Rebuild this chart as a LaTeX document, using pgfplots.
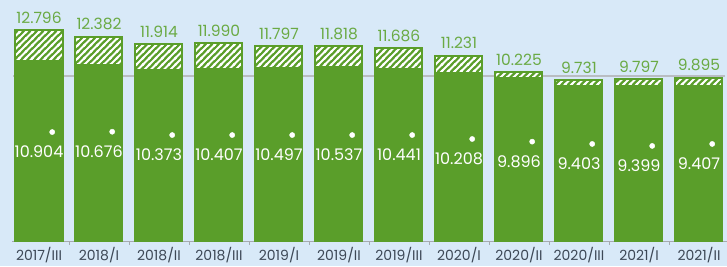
\documentclass[border=0pt]{standalone}
\usepackage{pgfplots}
\pgfplotsset{compat=1.18}
\usepackage{pgfplotstable}
\usepackage{fontspec}
\setmainfont{Poppins}
\usetikzlibrary{patterns}
\definecolor{bg}{HTML}{D8E9F8}
\definecolor{bargreen}{HTML}{5A9E2A}
\definecolor{labgreen}{HTML}{6AAA44}
\definecolor{gridgray}{HTML}{B9BDC2}
\definecolor{txt}{HTML}{3D4856}
\pgfdeclarepatternformonly{stripes}{\pgfpoint{-1pt}{-1pt}}{\pgfpoint{7.5pt}{7.5pt}}{\pgfpoint{6.5pt}{6.5pt}}{%
  \pgfsetlinewidth{2pt}%
  \pgfpathmoveto{\pgfpoint{-1pt}{-1pt}}%
  \pgfpathlineto{\pgfpoint{7.5pt}{7.5pt}}%
  \pgfpathmoveto{\pgfpoint{-1pt}{5.5pt}}%
  \pgfpathlineto{\pgfpoint{1pt}{7.5pt}}%
  \pgfpathmoveto{\pgfpoint{5.5pt}{-1pt}}%
  \pgfpathlineto{\pgfpoint{7.5pt}{1pt}}%
  \pgfusepath{stroke}}

\pgfplotstableread{
x solid total dot
0 10.904 12.796 6.60
1 10.676 12.382 6.62
2 10.373 11.914 6.42
3 10.407 11.990 6.42
4 10.497 11.797 6.42
5 10.537 11.818 6.42
6 10.441 11.686 6.42
7 10.208 11.231 6.18
8 9.896 10.225 6.02
9 9.403 9.731 5.88
10 9.399 9.797 5.76
11 9.407 9.895 5.88
}\data

\begin{document}
\begin{tikzpicture}
\fill[bg] (-12pt,-25pt) rectangle (715pt,241pt);
\begin{axis}[
  at={(0pt,0pt)}, anchor=south west,
  scale only axis, width=715pt, height=241pt,
  xmin=-0.45, xmax=11.467, ymin=0, ymax=14.6,
  axis x line=bottom, axis y line=none,
  x axis line style={-, draw=gridgray!90!black, line width=0.8pt},
  xtick={0,...,11},
  xticklabels={2017/III,2018/I,2018/II,2018/III,2019/I,2019/II,2019/III,2020/I,2020/II,2020/III,2021/I,2021/II},
  major tick length=0pt,
  minor xtick={0.5,1.5,...,10.5},
  minor tick length=4pt,
  tick align=outside,
  minor tick style={draw=gridgray!90!black, line width=0.8pt},
  xticklabel style={font=\fontsize{14}{14}\selectfont, text=txt, yshift=-3pt},
  clip=false,
]
\addplot[gridgray, line width=2pt] coordinates {(-0.43,10) (11.43,10)};
\addplot[ybar, bar width=47pt, bar shift=0pt, fill=bargreen, draw=bargreen, line width=2pt]
  table[x=x,y=total]{\data};
\addplot[ybar, bar width=47pt, bar shift=0pt, pattern=stripes, pattern color=white, draw=bargreen, line width=2pt]
  table[x=x,y=total]{\data};
\addplot[ybar, bar width=47pt, bar shift=0pt, fill=bargreen, draw=bargreen, line width=2pt]
  table[x=x,y=solid]{\data};
\addplot[only marks, mark=*, mark size=2.6pt, mark options={draw=white, fill=white}]
  table[x expr=\thisrow{x}+0.22, y=dot]{\data};
\addplot[draw=none, mark=none, nodes near coords, point meta=explicit symbolic,
  every node near coord/.style={text=white, font=\fontsize{16}{16}\selectfont, anchor=center, yshift=-20pt}]
  table[x=x, y=dot, meta=solid]{\data};
\addplot[draw=none, mark=none, nodes near coords, point meta=explicit symbolic,
  every node near coord/.style={text=labgreen, font=\fontsize{15.5}{15.5}\selectfont, anchor=south, yshift=3pt}]
  table[x=x, y=total, meta=total]{\data};
\end{axis}
\pgfresetboundingbox
\useasboundingbox (-12pt,-25pt) rectangle (715pt,241pt);
\end{tikzpicture}
\end{document}
